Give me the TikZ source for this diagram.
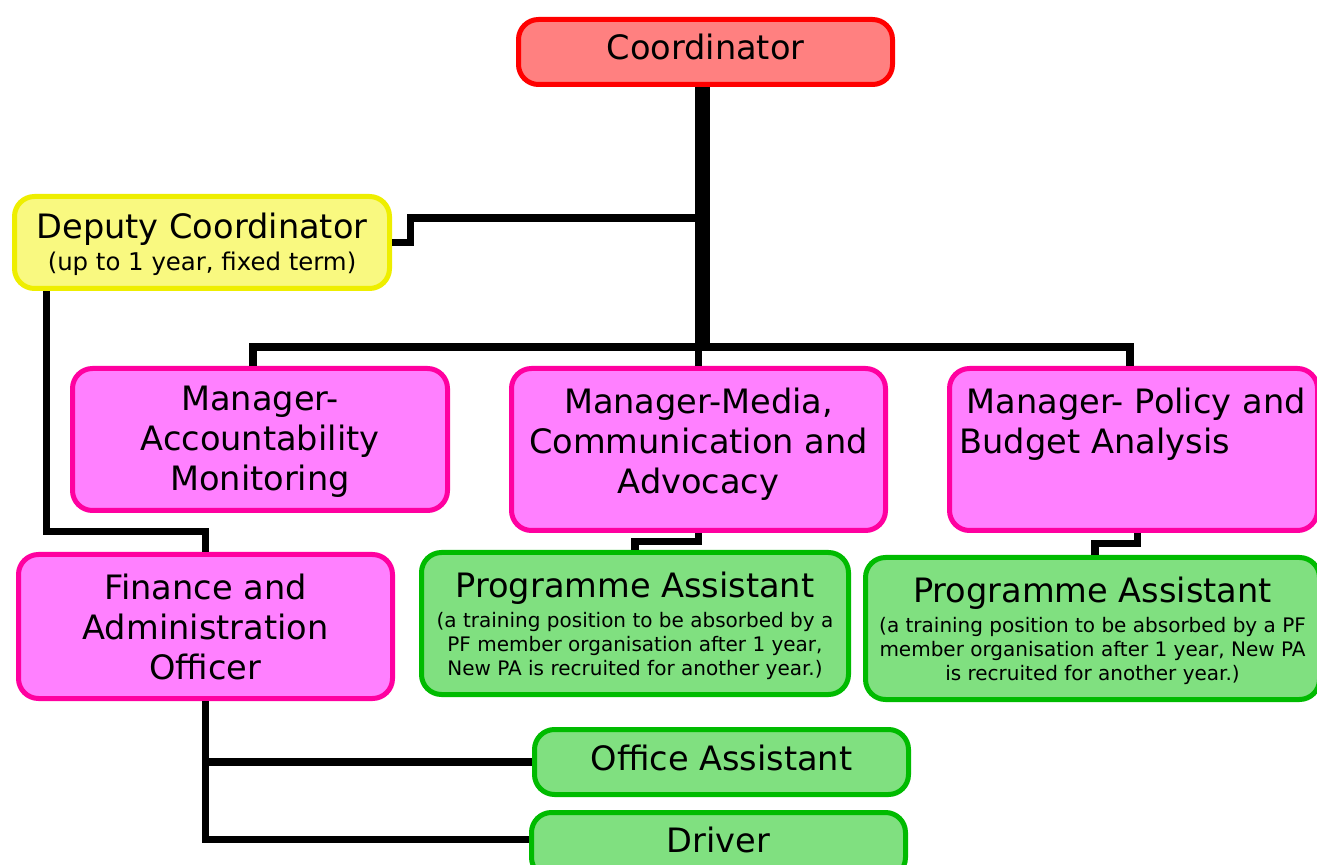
\documentclass[tikz,border=0pt]{standalone}
\usepackage{fontspec}
\setmainfont{DejaVu Sans}
\usetikzlibrary{calc}
\definecolor{bossfill}{HTML}{FF8080}
\definecolor{bossline}{HTML}{FF0000}
\definecolor{depfill}{HTML}{F9F980}
\definecolor{depline}{HTML}{EEEE00}
\definecolor{mgrfill}{HTML}{FF80FF}
\definecolor{mgrline}{HTML}{FF00A0}
\definecolor{stafffill}{HTML}{80E080}
\definecolor{staffline}{HTML}{00BB00}
\newcommand{\postfont}{\fontsize{16.8}{20}\selectfont}
\newcommand{\depnote}{\fontsize{12.2}{15}\selectfont}
\newcommand{\panote}{\fontsize{10}{12}\selectfont}
\tikzstyle{post} = [draw, line width=2.5pt, rounded corners=10pt, align=center, inner sep=0pt, font=\postfont]
\tikzstyle{boss} = [post, fill=bossfill, draw=bossline]
\tikzstyle{deputy} = [post, fill=depfill, draw=depline]
\tikzstyle{mgr} = [post, fill=mgrfill, draw=mgrline]
\tikzstyle{staff} = [post, fill=stafffill, draw=staffline]
\tikzstyle{link} = [line width=3.75pt]
\tikzstyle{trunk} = [line width=7.5pt]

\begin{document}
\begin{tikzpicture}[x=0.5pt, y=-0.5pt]
    \useasboundingbox (0,0) rectangle (1317,865);% page size
    % top of the tree
    \node[boss, minimum width=187pt, minimum height=32.5pt, text depth=5pt]
        (coord) at (705.5,52) {Coordinator};
    \node[deputy, minimum width=187.5pt, minimum height=46pt, text depth=1pt]
        (dep) at (202,242.5) {Deputy Coordinator\\[-4pt]\depnote (up to 1 year, fixed term)};
    % managers
    \node[mgr, minimum width=187.5pt, minimum height=71pt, text depth=1pt]
        (macc) at (260,439.5) {Manager-\\Accountability\\Monitoring};
    \node[mgr, minimum width=187pt, minimum height=81pt, text depth=8.5pt]
        (med) at (698.5,449.5) {Manager-Media,\\Communication and\\Advocacy};
    \node[mgr, minimum width=184pt, minimum height=81pt, align=left, text width=174pt, text depth=48.5pt]
        (pol) at (1133.5,449.5) {\hspace*{3.5pt}Manager- Policy and\\Budget Analysis};
    % staff
    \node[mgr, minimum width=187pt, minimum height=72pt]
        (fin) at (205.5,626.5) {Finance and\\Administration\\Officer};
    \node[staff, minimum width=213.5pt, minimum height=71pt, text depth=0pt]
        (pa1) at (635,623.5) {Programme Assistant\\[-5pt]\panote (a training position to be absorbed by a\\[-8pt]\panote PF member organisation after 1 year,\\[-8pt]\panote New PA is recruited for another year.)};
    \node[staff, minimum width=227pt, minimum height=71pt, text depth=0pt]
        (pa2) at (1092.5,628.5) {Programme Assistant\\[-5pt]\panote (a training position to be absorbed by a PF\\[-8pt]\panote member organisation after 1 year, New PA\\[-8pt]\panote is recruited for another year.)};
    \node[staff, minimum width=187pt, minimum height=32.5pt, text depth=4pt]
        (off) at (721.5,762) {Office Assistant};
    \node[staff, minimum width=187pt, minimum height=32.5pt, text depth=5.5pt]
        (drv) at (718.5,845) {Driver};
    % connectors
    \coordinate (hub) at (702.5,347);% where the bar meets the trunk
    \coordinate (djoin) at (702.5,218);% where the deputy joins
    \draw[trunk] (coord.south -| hub) -- ($(hub)+(0,4)$);% main trunk
    \draw[link] (dep.east) -- ++(18.5,0) |- (djoin);% to deputy
    \draw[link] ([xshift=-3.5pt]macc.north) |- (hub) -| ([xshift=-1.75pt]pol.north);% manager bar
    \draw[link] (med.north) -- (med.north |- hub);% middle drop
    \draw[link] ([xshift=-77.75pt]dep.south) -- ++(0,240.5) -| (fin.north);% deputy to finance
    \draw[link] (med.south) -- ++(0,8.5) -| (pa1.north);% media to assistant
    \draw[link] ([xshift=2pt]pol.south) -- ++(0,10.5) -| ([xshift=1.25pt]pa2.north);% policy to assistant
    \draw[link] (fin.south) |- (off.west);% office assistant
    \draw[link] (fin.south) |- ([yshift=2.75pt]drv.west);% driver
\end{tikzpicture}
\end{document}
